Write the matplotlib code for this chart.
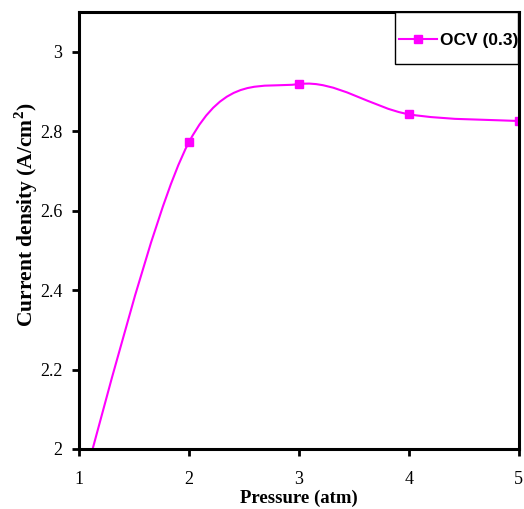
import numpy as np
import matplotlib
matplotlib.use('Agg')
import matplotlib.pyplot as plt
from matplotlib.path import Path
from matplotlib.patches import PathPatch, Rectangle
from matplotlib.lines import Line2D

plt.rcParams['mathtext.fontset'] = 'custom'
plt.rcParams['mathtext.rm'] = 'Liberation Serif:bold'
plt.rcParams['mathtext.bf'] = 'Liberation Serif:bold'

pressure = [1, 2, 3, 4, 5]
current = [1.88, 2.773, 2.919, 2.843, 2.826]
series_name = 'OCV (0.3)'
xticks = [1, 2, 3, 4, 5]
yticks = [2, 2.2, 2.4, 2.6, 2.8, 3]
ytick_labels = ['2', '2.2', '2.4', '2.6', '2.8', '3']

color = '#FF00FF'

fig = plt.figure(figsize=(5.24, 5.09), dpi=100)
ax = fig.add_axes([0.151, 0.118, 0.839, 0.858])

# smoothed line (Excel-like): cubic Bezier segments built from the data points
pts = np.column_stack([pressure, current])
verts = [tuple(pts[0])]
codes = [Path.MOVETO]
n = len(pts)
for i in range(n - 1):
    p0 = pts[i - 1] if i > 0 else pts[i]
    p1 = pts[i]
    p2 = pts[i + 1]
    p3 = pts[i + 2] if i + 2 < n else pts[i + 1]
    c1 = p1 + (p2 - p0) / 6
    c2 = p2 - (p3 - p1) / 6
    verts += [tuple(c1), tuple(c2), tuple(p2)]
    codes += [Path.CURVE4] * 3
ax.add_patch(PathPatch(Path(verts, codes), facecolor='none', edgecolor=color, lw=1.5))
ax.plot(pressure, current, ls='none', marker='s', ms=6, color=color)

ax.set_xlim(1, 5)
ax.set_ylim(2, 3.1)
ax.set_xticks(xticks)
ax.set_xticklabels([str(t) for t in xticks])
ax.set_yticks(yticks)
ax.set_yticklabels(ytick_labels)
for lab in ax.get_xticklabels() + ax.get_yticklabels():
    lab.set_fontfamily('Liberation Serif')
    lab.set_fontsize(13)
ax.tick_params(direction='out', length=5, width=2)
ax.tick_params(axis='x', pad=11)
ax.tick_params(axis='y', pad=7)

for s in ax.spines.values():
    s.set_linewidth(2.2)

ax.set_xlabel('Pressure (atm)', family='Liberation Serif', weight='bold', fontsize=13.5, labelpad=1)
ax.set_ylabel('Current density (A/cm$^{2}$)', family='Liberation Serif', weight='bold',
              fontsize=15.5)
ax.yaxis.set_label_coords(-0.088, 0.535)

# legend: frameless entry inside a hand-placed box
ax.add_patch(Rectangle((0.718, 0.881), 0.28, 0.119, transform=ax.transAxes,
                       facecolor='white', edgecolor='black', lw=1, zorder=4))
handle = Line2D([], [], color=color, marker='s', ms=6, lw=1.5)
leg = ax.legend([handle], [series_name], loc='center left', bbox_to_anchor=(0.727, 0.936),
                prop={'family': 'Liberation Sans', 'weight': 'bold', 'size': 12.5},
                frameon=False, borderpad=0, handlelength=2.2,
                handletextpad=0.2, borderaxespad=0)
leg.set_zorder(5)

fig.savefig('out.png', dpi=100)
